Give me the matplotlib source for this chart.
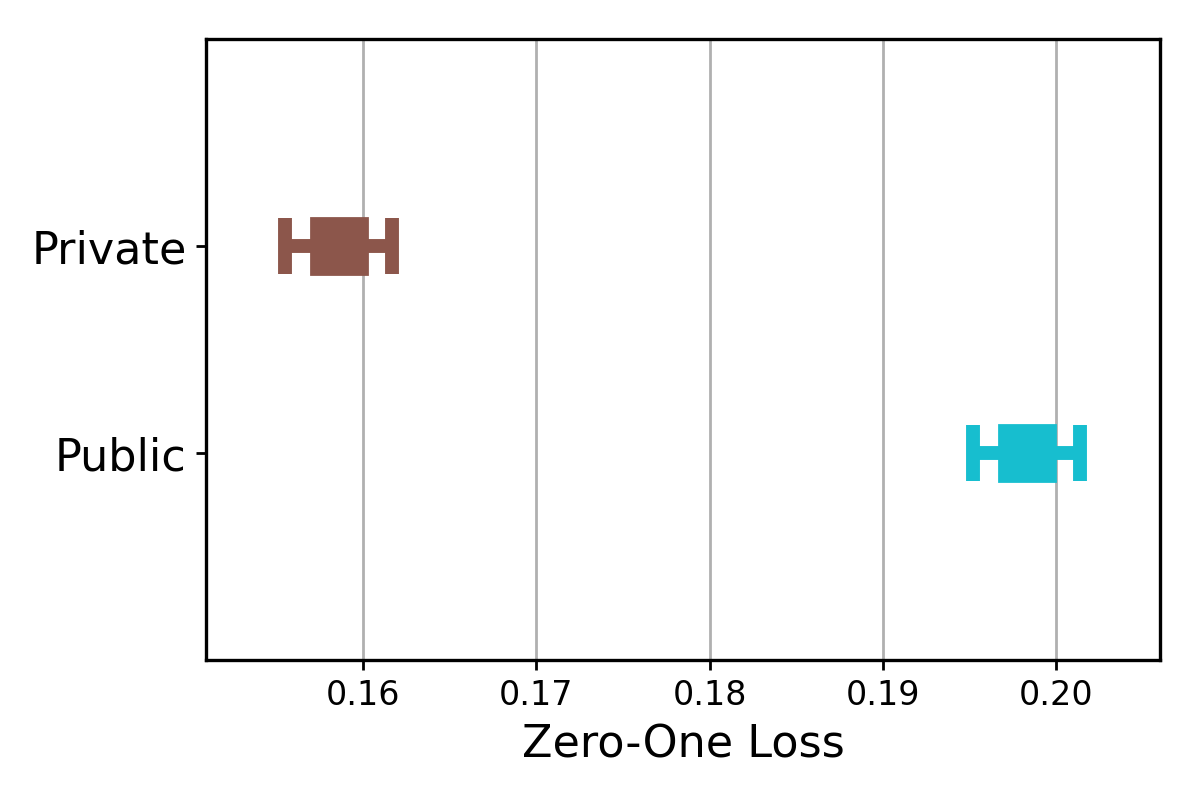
import matplotlib
matplotlib.use('Agg')
import matplotlib.pyplot as plt

# Mean zero-one loss and error per dataset
labels = ['Public', 'Private']
means = [0.1983, 0.1586]
errors = [0.0031, 0.0031]
colors = ['tab:cyan', 'tab:brown']

fig = plt.figure(figsize=(6, 4), dpi=200)
ax = fig.add_axes([0.1717, 0.175, 0.795, 0.776])

for i, (m, e, c) in enumerate(zip(means, errors, colors)):
    ax.errorbar(m, i, xerr=e, fmt='s', ms=20, color=c,
                elinewidth=5, capsize=10, capthick=5)

ax.set_yticks(range(len(labels)))
ax.set_yticklabels(labels, fontsize=16)
ax.set_ylim(-1, 2)
ax.set_xlim(0.15094, 0.2060)
ax.set_xticks([0.16, 0.17, 0.18, 0.19, 0.20])
ax.tick_params(axis='x', labelsize=12)
ax.tick_params(width=1.0)
ax.set_xlabel('Zero-One Loss', fontsize=16)
ax.grid(axis='x', linewidth=1.0)
for sp in ax.spines.values():
    sp.set_linewidth(1.2)

plt.savefig('out.png')
